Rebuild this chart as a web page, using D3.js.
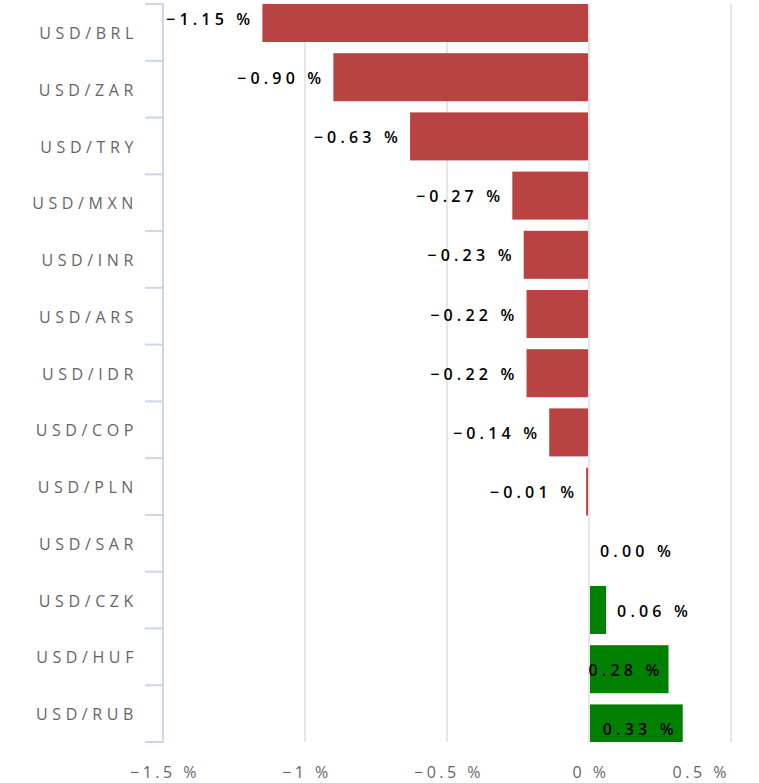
<!DOCTYPE html>
<html>
<head>
<meta charset="utf-8">
<script src="https://cdn.jsdelivr.net/npm/d3@7"></script>
<style>
  body { margin: 0; background: #fff; }
  svg { display: block; }
</style>
</head>
<body>
<svg id="chart" width="759" height="783"></svg>
<script>
const categories = ['USD/BRL', 'USD/ZAR', 'USD/TRY', 'USD/MXN', 'USD/INR', 'USD/ARS', 'USD/IDR',
    'USD/COP', 'USD/PLN', 'USD/SAR', 'USD/CZK', 'USD/HUF', 'USD/RUB'];
const changes = [-1.15, -0.90, -0.63, -0.27, -0.23, -0.22, -0.22, -0.14, -0.01, 0.00, 0.06, 0.28, 0.33];
const xTicks = [-1.5, -1, -0.5, 0, 0.5];

const width = 759, height = 783;
const plot = { left: 163, right: 731, top: 4, bottom: 742 };

const svg = d3.select('#chart');

const x = d3.scaleLinear().domain([-1.5, 0.5]).range([plot.left, plot.right]);
// axis category bands
const yAxis = d3.scaleBand().domain(categories).range([plot.top, plot.bottom]);
// bars are laid out on their own slightly wider pitch, clipped by the plot
const yBar = d3.scalePoint().domain(categories).range([18, 728.4]);
const barH = 48;

svg.append('clipPath').attr('id', 'plotClip')
    .append('rect')
    .attr('x', plot.left).attr('y', plot.top)
    .attr('width', width - plot.left).attr('height', plot.bottom - plot.top);

// grid lines
svg.append('g')
    .selectAll('line')
    .data(xTicks.slice(1))
    .join('line')
    .attr('x1', d => x(d)).attr('x2', d => x(d))
    .attr('y1', plot.top).attr('y2', plot.bottom)
    .attr('stroke', '#e6e6e6')
    .attr('stroke-width', 2);

// bars
const bars = svg.append('g').attr('clip-path', 'url(#plotClip)');
bars.selectAll('rect')
    .data(changes)
    .join('rect')
    .attr('x', d => d < 0 ? x(d) : x(0) + 1)
    .attr('y', (d, i) => yBar(categories[i]) - barH / 2)
    .attr('width', d => Math.max(0, Math.abs(x(d) - x(0)) - 1))
    .attr('height', barH)
    .attr('fill', d => d < 0 ? '#b94242' : '#008000');

// category axis
const axisG = svg.append('g');
axisG.append('line')
    .attr('x1', plot.left).attr('x2', plot.left)
    .attr('y1', plot.top).attr('y2', plot.bottom)
    .attr('stroke', '#ccd6eb').attr('stroke-width', 2);
axisG.selectAll('line.tick')
    .data(categories.concat(['__end']))
    .join('line')
    .attr('class', 'tick')
    .attr('x1', plot.left - 18).attr('x2', plot.left)
    .attr('y1', (d, i) => plot.top + i * yAxis.step())
    .attr('y2', (d, i) => plot.top + i * yAxis.step())
    .attr('stroke', '#ccd6eb').attr('stroke-width', 2);
axisG.selectAll('text')
    .data(categories)
    .join('text')
    .attr('x', 138)
    .attr('y', d => yAxis(d) + yAxis.bandwidth() / 2 + 1)
    .attr('dy', '0.35em')
    .attr('text-anchor', 'end')
    .attr('fill', '#666')
    .style('font-family', '"Open Sans", sans-serif')
    .style('font-size', '16px')
    .style('letter-spacing', '4.6px')
    .text(d => d);

// value axis labels
const xLabels = svg.append('g').selectAll('text')
    .data(xTicks)
    .join('text')
    .attr('x', d => x(d) + 2)
    .attr('y', 772)
    .attr('dy', '0.35em')
    .attr('text-anchor', 'middle')
    .attr('fill', '#666')
    .style('font-family', '"Open Sans", sans-serif')
    .style('font-size', '16px')
    .style('letter-spacing', '3.5px')
    .text(d => `${d < 0 ? '−' : ''}${Math.abs(d)} %`);
xLabels.each(function () {
    const box = this.getBBox();
    if (box.x + box.width > 730) d3.select(this).attr('x', +d3.select(this).attr('x') - (box.x + box.width - 730));
});

// data labels
svg.append('g').selectAll('text')
    .data(changes)
    .join('text')
    .attr('y', (d, i) => yBar(categories[i]) + 1)
    .attr('dy', '0.35em')
    .attr('fill', '#000')
    .style('font-family', '"Open Sans", sans-serif')
    .style('font-size', '16px')
    .style('font-weight', '600')
    .style('letter-spacing', '4.2px')
    .text(d => `${d < 0 ? '−' : ''}${Math.abs(d).toFixed(2)} %`)
    .each(function (d) {
        const t = d3.select(this);
        if (d < 0) {
            t.attr('x', x(d) - 8).attr('text-anchor', 'end');
        } else {
            const w = this.getComputedTextLength();
            const lx = x(d) + 11;
            if (lx + w > width - 20) {
                // no room outside: pull inside the bar, right aligned
                t.attr('x', x(d) - 5).attr('text-anchor', 'end');
            } else {
                t.attr('x', lx);
            }
        }
    });
</script>
</body>
</html>
